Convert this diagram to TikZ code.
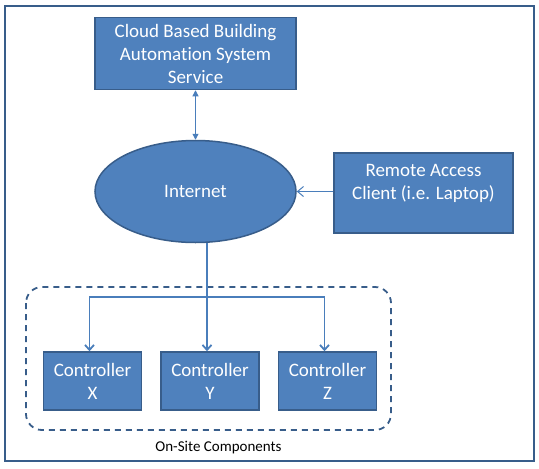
\documentclass[tikz,border=0pt]{standalone}
\usepackage{fontspec}
\setmainfont[Ligatures=NoCommon]{Carlito}
\usetikzlibrary{arrows.meta,
                positioning,
                shapes.geometric}
\definecolor{boxfill}{HTML}{4F81BD}
\definecolor{boxline}{HTML}{385D8A}
\definecolor{wire}{HTML}{4A7EBB}

\begin{document}
\begin{tikzpicture}[x=1pt, y=-1pt,
node distance= 18pt and 18pt,
     base/.style = {draw=boxline, fill=boxfill, line width=1.5pt,
                    text=white, align=center, inner sep=0pt,
                    font=\fontsize{19}{23}\selectfont},
  service/.style = {base, minimum width=201pt, minimum height=72pt},
    cloud/.style = {base, ellipse, minimum width=201pt, minimum height=102pt},
   client/.style = {base, minimum width=179pt, minimum height=80pt, text depth=22pt},
     ctrl/.style = {base, minimum width=98pt, minimum height=58pt},
    arrow/.style = {draw=wire, line width=1.8pt, -{Straight Barb[length=5pt, width=9pt]}},
   darrow/.style = {draw=wire, line width=1pt, {Triangle[length=6pt, width=6pt]}-{Triangle[length=6pt, width=6pt]}},
   oarrow/.style = {draw=wire, line width=1pt, -{Straight Barb[length=6pt, width=10pt]}}
                    ]
\useasboundingbox (0,0) rectangle (539,469);
% frame
\draw[boxline, line width=1.5pt] (5,6) rectangle (534,461);
 % main
\node (bas)    [service] at (195.5,53.5) {Cloud Based Building\\Automation System\\Service};
\node (inet)   [cloud]   at (195.5,191.5) {Internet};
\node (remote) [client]  at (423.5,193) {Remote Access\\Client (i.e. Laptop)};
% on-site
\node (ctrlX)  [ctrl] at (92.5,381) {Controller\\X};
\node (ctrlY)  [ctrl, right=of ctrlX] {Controller\\Y};
\node (ctrlZ)  [ctrl, right=of ctrlY] {Controller\\Z};
\draw[boxline, line width=1.8pt, dash pattern=on 6pt off 5pt, rounded corners=16pt]
    (26,287) rectangle (391,430);
\node (site) at (218.5,448) {\fontsize{15}{17}\selectfont On-Site Components};
% connectors
\draw[darrow] (bas) -- (inet);
\draw[oarrow] (remote.west |- inet) -- (inet);
\coordinate (hub) at ([xshift=-3pt]ctrlY.north |- 0,297);
\draw[wire, line width=2.5pt] (inet.south -| hub) -- (hub);
\draw[arrow] (hub) -- (hub |- ctrlY.north);
\draw[arrow] (hub) -| ([xshift=-3pt]ctrlX.north);
\draw[arrow] (hub) -| ([xshift=-3pt]ctrlZ.north);
\end{tikzpicture}
\end{document}
